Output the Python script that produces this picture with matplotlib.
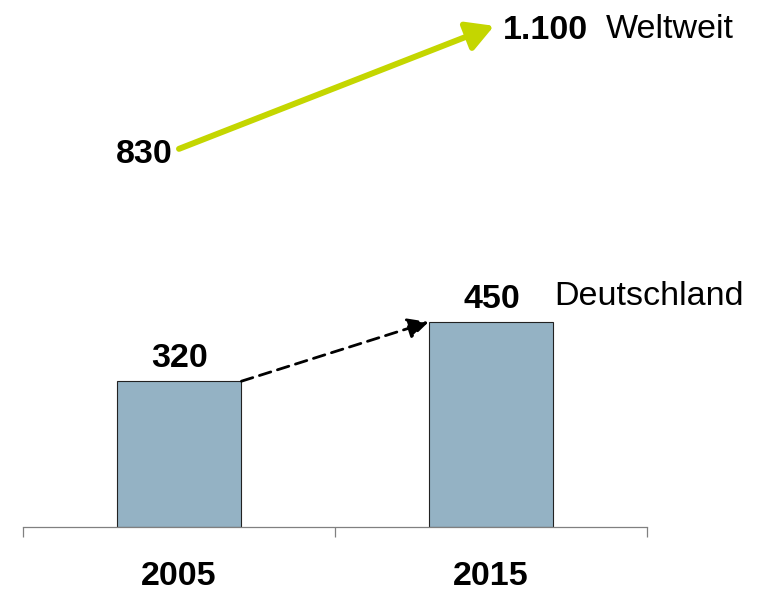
import numpy as np
import matplotlib
matplotlib.use("Agg")
import matplotlib.pyplot as plt

plt.rcParams['font.family'] = ['Liberation Sans', 'DejaVu Sans']

# Data
years = ["2005", "2015"]
germany = [320, 450]
world = [830, 1100]
germany_label = "Deutschland"
world_label = "Weltweit"
world_text = ["830", "1.100"]

bar_color = "#94b2c4"
green = "#c4d600"
fs = 24.5

fig = plt.figure(figsize=(7.71, 5.93), dpi=100)
# axes: baseline at 527 px from top, left at 23 px, right at 647 px
ax = fig.add_axes([23 / 771, (593 - 527) / 593, 624 / 771, 527 / 593])
ax.set_xlim(-0.5, 1.5)
ax.set_ylim(0, 527 / 0.4556)

x = np.arange(len(years))
bw = 0.4
ax.bar(x, germany, width=bw, color=bar_color, edgecolor="#222222", linewidth=0.8, zorder=2)

# spines / ticks
for s in ["top", "right", "left"]:
    ax.spines[s].set_visible(False)
ax.spines["bottom"].set_color("#808080")
ax.spines["bottom"].set_linewidth(0.9)
ax.set_yticks([])
ax.set_xticks([-0.5, 0.5, 1.5])
ax.set_xticklabels([])
ax.tick_params(axis="x", direction="out", length=7.2, width=0.9, color="#808080")

# year labels
for i, yr in enumerate(years):
    ax.annotate(yr, xy=(i, 0), xytext=(0, -58), textcoords="offset pixels",
                ha="center", va="baseline", fontsize=fs, fontweight="bold")

# value labels on bars
for i, v in enumerate(germany):
    ax.annotate(str(v), xy=(i, v), xytext=(1, 14), textcoords="offset pixels",
                ha="center", va="baseline", fontsize=fs, fontweight="bold")
ax.annotate(germany_label, xy=(1, germany[1]), xytext=(63, 17), textcoords="offset pixels",
            ha="left", va="baseline", fontsize=fs)

# dashed arrow between bar tops
ax.annotate("", xy=(1 - bw / 2, germany[1]), xytext=(bw / 2, germany[0]),
            arrowprops=dict(arrowstyle="-|>,head_length=0.9,head_width=0.45",
                            color="black", lw=2.0, linestyle=(0, (4.3, 2.5)),
                            shrinkA=0, shrinkB=0, mutation_scale=14))

# green world arrow
ax.annotate("", xy=(1.01, world[1]), xytext=(0, world[0]),
            arrowprops=dict(arrowstyle="-|>,head_length=0.9,head_width=0.5",
                            color=green, lw=4.3, shrinkA=0, shrinkB=0,
                            mutation_scale=18))
ax.annotate(world_text[0], xy=(0, world[0]), xytext=(-6, -14), textcoords="offset pixels",
            ha="right", va="baseline", fontsize=fs, fontweight="bold")
ax.annotate(world_text[1], xy=(1.01, world[1]), xytext=(9, -13), textcoords="offset pixels",
            ha="left", va="baseline", fontsize=fs, fontweight="bold")
ax.annotate(world_label, xy=(1.01, world[1]), xytext=(112, -12), textcoords="offset pixels",
            ha="left", va="baseline", fontsize=fs)

fig.savefig("out.png", dpi=100)
